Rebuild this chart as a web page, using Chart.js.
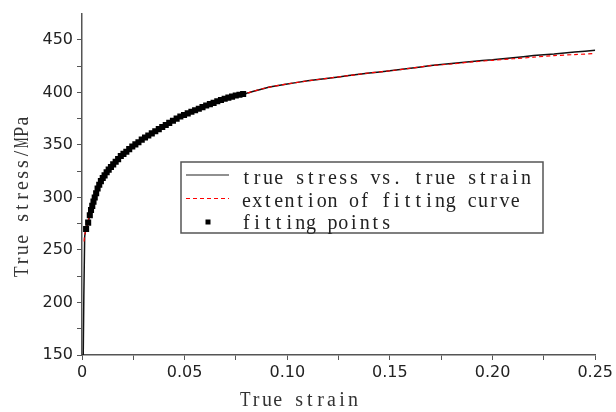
<!DOCTYPE html>
<html>
<head>
<meta charset="utf-8">
<script src="https://cdn.jsdelivr.net/npm/chart.js@4.4.1/dist/chart.umd.min.js"></script>
<style>
  html, body { margin: 0; padding: 0; background: #fff; }
  #wrap { width: 616px; height: 412px; }
</style>
</head>
<body>
<div id="wrap"><canvas id="chart" width="616" height="412"></canvas></div>
<script>
// elastic part of the measured curve
const elasticStrain = [0, 0.0006, 0.0013];
const elasticStress = [0, 150, 262];

// fitting points (plastic region up to ~0.08)
const fitStrain = [0.0020, 0.0030, 0.0038, 0.0044, 0.0050, 0.0056, 0.0062, 0.0069, 0.0076, 0.0084,
  0.0092, 0.0101, 0.0110, 0.0120, 0.0130, 0.0141, 0.0152, 0.0164, 0.0176, 0.0189,
  0.0202, 0.0216, 0.0230, 0.0245, 0.0260, 0.0275, 0.0291, 0.0307, 0.0323, 0.0340,
  0.0357, 0.0374, 0.0391, 0.0408, 0.0425, 0.0443, 0.0461, 0.0479, 0.0497, 0.0515,
  0.0533, 0.0551, 0.0569, 0.0587, 0.0605, 0.0623, 0.0641, 0.0659, 0.0677, 0.0695,
  0.0713, 0.0731, 0.0749, 0.0767, 0.0785];
const fitStress = [270, 276, 283, 288, 292, 296, 300, 304, 308.5, 312,
  315.5, 318.5, 321, 324, 326.5, 329, 331.5, 334, 336.5, 339.5,
  341.5, 343.5, 346, 348.5, 350.5, 352.5, 355, 357, 359, 361,
  363, 365, 367, 369, 371, 373, 375, 377, 378.5, 380,
  381.5, 383, 384.5, 386, 387.5, 388.8, 390, 391.5, 392.8, 394,
  395, 396, 397, 397.8, 398.5];

// measured curve beyond the fitting range
const tailStrain = [0.08, 0.09, 0.10, 0.11, 0.12, 0.13, 0.14, 0.15, 0.16, 0.17, 0.18, 0.19, 0.20, 0.21, 0.22, 0.23, 0.24, 0.25];
const tailStress = [399, 404.5, 408, 411, 413.5, 416, 418.5, 420.5, 423, 425.5, 427.5, 429.5, 431, 433, 435, 436.5, 438.5, 440];

// extension of the fitting curve
const extStrain = [0.0010, 0.0013, 0.0020, 0.0050, 0.01, 0.02, 0.03, 0.04, 0.05, 0.06, 0.07, 0.08, 0.09, 0.10, 0.11, 0.12, 0.13, 0.14, 0.15, 0.16, 0.17, 0.18, 0.19, 0.20, 0.21, 0.22, 0.23, 0.24, 0.25];
const extStress = [258, 264, 270, 292, 318, 341, 356, 368, 379, 386.5, 393, 399, 404.5, 408, 411, 413.5, 416, 418.5, 420.5, 423, 425.5, 427, 429, 430.5, 432, 433.5, 435, 436, 437];

const yTicks = [150, 200, 250, 300, 350, 400, 450];

const legendItems = ['true stress vs. true strain', 'extention of fitting curve', 'fitting points'];
const xTitle = 'True strain';
const yTitle = 'True stress/MPa';

// monospaced serif look (like SimSun half-width latin)
const SERIF = '20px "Liberation Serif", "DejaVu Serif", serif';
const CELL = 10.75;
const TICK_FONT = { family: '"DejaVu Sans", sans-serif', size: 16 };
const AXIS_COLOR = '#555';

const zip = (xs, ys) => xs.map((x, i) => ({ x, y: ys[i] }));

const measured = zip(elasticStrain, elasticStress)
  .concat(zip(fitStrain, fitStress))
  .concat(zip(tailStrain, tailStress));

const isMajor = (v, step) => Math.abs(v / step - Math.round(v / step)) < 1e-6;

// draw text one character per fixed cell, squeezing wide glyphs
function monoText(ctx, text, x, y) {
  ctx.textAlign = 'center';
  ctx.textBaseline = 'alphabetic';
  for (let i = 0; i < text.length; i++) {
    const ch = text[i];
    if (ch === ' ') continue;
    const cx = x + i * CELL + CELL / 2;
    const w = ctx.measureText(ch).width;
    const maxW = CELL * 0.98;
    if (w > maxW) {
      ctx.save();
      ctx.translate(cx, y);
      ctx.scale(maxW / w, 1);
      ctx.fillText(ch, 0, 0);
      ctx.restore();
    } else {
      ctx.fillText(ch, cx, y);
    }
  }
}

const textPlugin = {
  id: 'monoTexts',
  afterDraw(chart) {
    const ctx = chart.ctx;
    ctx.save();
    // legend box
    const x0 = 181, y0 = 162, w = 362, h = 71;
    ctx.fillStyle = '#fff';
    ctx.fillRect(x0, y0, w, h);
    ctx.strokeStyle = AXIS_COLOR;
    ctx.lineWidth = 1.5;
    ctx.strokeRect(x0, y0, w, h);

    const rows = [175, 198.5, 222];
    const baselines = [183.5, 206.5, 229];
    ctx.strokeStyle = '#222';
    ctx.lineWidth = 1.2;
    ctx.beginPath();
    ctx.moveTo(186, rows[0]);
    ctx.lineTo(229, rows[0]);
    ctx.stroke();
    ctx.strokeStyle = '#ff0000';
    ctx.setLineDash([4, 3]);
    ctx.beginPath();
    ctx.moveTo(186, rows[1]);
    ctx.lineTo(229, rows[1]);
    ctx.stroke();
    ctx.setLineDash([]);
    ctx.fillStyle = '#000';
    ctx.fillRect(205.5, rows[2] - 2.5, 5, 5);

    ctx.font = SERIF;
    ctx.fillStyle = '#222';
    legendItems.forEach((t, i) => monoText(ctx, t, 241, baselines[i]));

    // axis titles
    ctx.fillStyle = '#333';
    monoText(ctx, xTitle, 240, 406);
    ctx.translate(27.5, 277);
    ctx.rotate(-Math.PI / 2);
    monoText(ctx, yTitle, 0, 0);
    ctx.restore();
  }
};

new Chart(document.getElementById('chart'), {
  type: 'scatter',
  plugins: [textPlugin],
  data: {
    datasets: [
      {
        label: legendItems[2],
        data: zip(fitStrain, fitStress),
        showLine: false,
        pointStyle: 'rect',
        pointRadius: 4.3,
        pointBackgroundColor: '#000',
        pointBorderColor: '#000',
        pointBorderWidth: 0,
        order: 0,
      },
      {
        label: legendItems[1],
        data: zip(extStrain, extStress),
        showLine: true,
        borderColor: '#ff0000',
        borderWidth: 1.2,
        borderDash: [4, 3],
        pointRadius: 0,
        tension: 0.3,
        order: 1,
      },
      {
        label: legendItems[0],
        data: measured,
        showLine: true,
        borderColor: '#111',
        borderWidth: 1.5,
        pointRadius: 0,
        tension: 0.2,
        order: 2,
      },
    ]
  },
  options: {
    responsive: false,
    animation: false,
    devicePixelRatio: 1,
    layout: { padding: { top: 11, right: 19, left: 0, bottom: 0 } },
    plugins: {
      legend: { display: false },
      tooltip: { enabled: false },
    },
    scales: {
      x: {
        type: 'linear',
        min: 0,
        max: 0.25,
        afterFit(s) { s.height = 57; },
        afterBuildTicks(s) {
          s.ticks = [];
          for (let i = 0; i <= 10; i++) s.ticks.push({ value: +(i * 0.025).toFixed(3) });
        },
        grid: { drawOnChartArea: false, tickLength: 5, color: AXIS_COLOR, tickColor: AXIS_COLOR },
        border: { color: AXIS_COLOR, width: 1.5 },
        ticks: {
          autoSkip: false,
          maxRotation: 0,
          color: '#222',
          font: TICK_FONT,
          padding: 3,
          callback(v) {
            if (!isMajor(v, 0.05)) return '';
            return v === 0 ? '0' : v.toFixed(2);
          }
        }
      },
      y: {
        type: 'linear',
        min: 150,
        max: 475,
        afterFit(s) { s.width = 82; },
        afterBuildTicks(s) {
          s.ticks = [];
          for (let v = 150; v <= 450; v += 25) s.ticks.push({ value: v });
        },
        grid: { drawOnChartArea: false, tickLength: 5, color: AXIS_COLOR, tickColor: AXIS_COLOR },
        border: { color: AXIS_COLOR, width: 1.5 },
        ticks: {
          autoSkip: false,
          color: '#222',
          font: TICK_FONT,
          padding: 4,
          callback(v) { return yTicks.includes(v) ? String(v) : ''; }
        }
      }
    }
  }
});
</script>
</body>
</html>
